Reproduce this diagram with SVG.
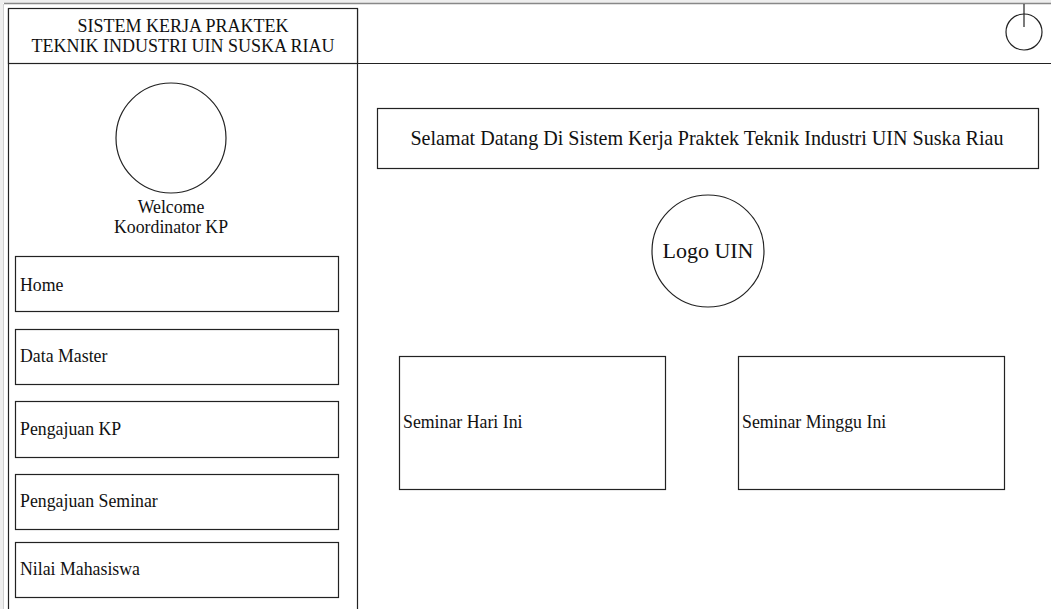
<svg xmlns="http://www.w3.org/2000/svg" width="1051" height="609" viewBox="0 0 1051 609">
<style>
.box{fill:#fff;stroke:#222;stroke-width:1.2}
.ln{stroke:#222;stroke-width:1.2;fill:none}
.t{font-family:"Liberation Serif","Times New Roman",serif;font-size:17.8px;fill:#111}
.c{text-anchor:middle}
</style>
<rect x="0" y="0" width="1051" height="609" fill="#fff"/>
<rect x="0" y="0" width="1051" height="3" fill="#eeeeee"/>
<rect x="0" y="0" width="3" height="609" fill="#eeeeee"/>
<line x1="4" y1="3.5" x2="1051" y2="3.5" stroke="#888" stroke-width="1.5"/>
<line x1="3.5" y1="4" x2="3.5" y2="609" stroke="#cfcfcf" stroke-width="1"/>

<g id="frame">
<line class="ln" x1="8.5" y1="8.5" x2="8.5" y2="609"/>
<line class="ln" x1="357.5" y1="8.5" x2="357.5" y2="609"/>
<line class="ln" x1="357.5" y1="63.5" x2="1051" y2="63.5"/>
</g>

<g id="header-title">
<rect class="box" x="8.5" y="8.5" width="349" height="55"/>
<text class="t c" x="183" y="32" style="font-size:18px">SISTEM KERJA PRAKTEK</text>
<text class="t c" x="183" y="52" style="font-size:18px">TEKNIK INDUSTRI UIN SUSKA RIAU</text>
</g>

<g id="power-icon">
<circle class="ln" cx="1024" cy="32" r="18"/>
<line class="ln" x1="1024" y1="4" x2="1024" y2="27"/>
</g>

<g id="avatar">
<circle class="ln" cx="171" cy="138" r="55"/>
<text class="t c" x="171" y="213">Welcome</text>
<text class="t c" x="171" y="233">Koordinator KP</text>
</g>

<g id="menu-home">
<rect class="box" x="15.5" y="256.5" width="323" height="55"/>
<text class="t" x="20" y="291">Home</text>
</g>
<g id="menu-data-master">
<rect class="box" x="15.5" y="329.5" width="323" height="55"/>
<text class="t" x="20" y="362">Data Master</text>
</g>
<g id="menu-pengajuan-kp">
<rect class="box" x="15.5" y="401.5" width="323" height="56"/>
<text class="t" x="20" y="435">Pengajuan KP</text>
</g>
<g id="menu-pengajuan-seminar">
<rect class="box" x="15.5" y="474.5" width="323" height="55"/>
<text class="t" x="20" y="507">Pengajuan Seminar</text>
</g>
<g id="menu-nilai-mahasiswa">
<rect class="box" x="15.5" y="542.5" width="323" height="55"/>
<text class="t" x="20" y="575">Nilai Mahasiswa</text>
</g>

<g id="welcome-banner">
<rect class="box" x="377.5" y="108.5" width="661" height="60"/>
<text class="t c" x="707" y="145" style="font-size:20.1px">Selamat Datang Di Sistem Kerja Praktek Teknik Industri UIN Suska Riau</text>
</g>

<g id="logo-uin">
<circle class="ln" cx="708" cy="251" r="56"/>
<text class="t c" x="708" y="258" style="font-size:22px">Logo UIN</text>
</g>

<g id="seminar-hari-ini">
<rect class="box" x="399.5" y="356.5" width="266" height="133"/>
<text class="t" x="403" y="428">Seminar Hari Ini</text>
</g>
<g id="seminar-minggu-ini">
<rect class="box" x="738.5" y="356.5" width="266" height="133"/>
<text class="t" x="742" y="428">Seminar Minggu Ini</text>
</g>
</svg>
